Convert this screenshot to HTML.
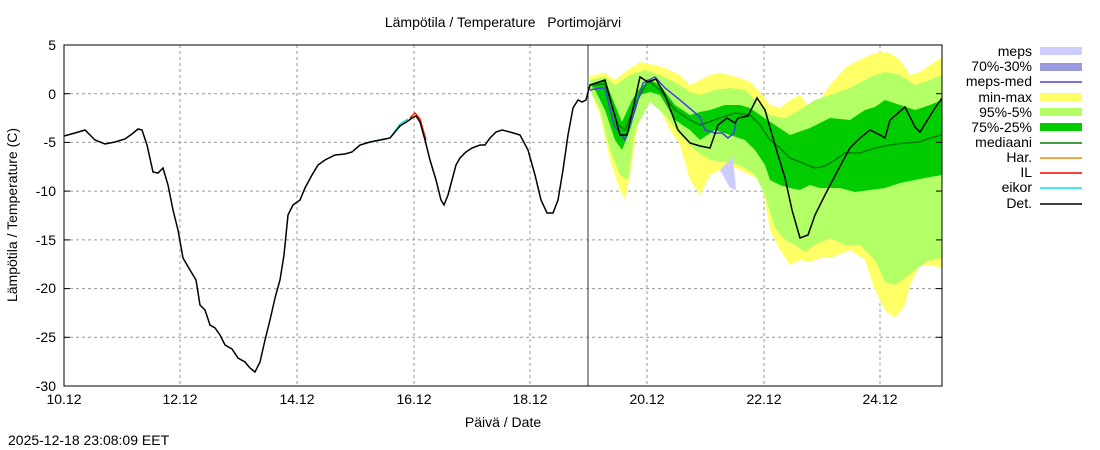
<!DOCTYPE html><html><head><meta charset="utf-8"><style>body{margin:0;background:#fff}svg{display:block;font-family:"Liberation Sans",sans-serif}</style></head><body>
<svg width="1100" height="450" xmlns="http://www.w3.org/2000/svg">
<g stroke="#999" stroke-dasharray="3,3" stroke-width="1">
<line x1="64" y1="93.7" x2="942" y2="93.7"/><line x1="64" y1="142.4" x2="942" y2="142.4"/><line x1="64" y1="191.1" x2="942" y2="191.1"/><line x1="64" y1="239.9" x2="942" y2="239.9"/><line x1="64" y1="288.6" x2="942" y2="288.6"/><line x1="64" y1="337.3" x2="942" y2="337.3"/>
<line x1="180" y1="45" x2="180" y2="386"/><line x1="297" y1="45" x2="297" y2="386"/><line x1="414" y1="45" x2="414" y2="386"/><line x1="530" y1="45" x2="530" y2="386"/><line x1="647" y1="45" x2="647" y2="386"/><line x1="764" y1="45" x2="764" y2="386"/><line x1="880" y1="45" x2="880" y2="386"/>
</g>
<polygon fill="#ffff66" points="590,76 605,73 615,80 625,72 640,62 655,65 665,68 680,75 690,85 700,80 710,75 720,73 730,75 740,78 750,82 760,92 770,105 780,108 790,100 800,95 810,108 820,100 830,85 845,68 855,62 870,55 880,52 890,53 900,60 910,75 920,72 930,65 942,57 942,268 930,265 920,265 910,285 905,305 895,318 885,310 875,290 865,260 850,250 830,258 820,258 810,262 800,260 790,265 780,250 770,230 765,200 760,180 750,175 740,170 730,165 720,170 710,175 700,195 690,180 680,145 670,130 660,110 650,100 640,110 630,175 625,200 620,190 610,160 600,115 590,90"/>
<polygon fill="#b3ff66" points="590,80 605,77 615,85 630,75 645,70 660,75 675,82 690,92 700,95 715,90 730,88 745,90 755,100 770,115 785,118 800,110 815,100 830,95 850,88 870,77 885,72 900,75 915,85 930,80 942,75 942,258 930,260 915,270 905,278 895,285 885,282 875,260 860,245 845,245 830,238 815,245 805,252 795,245 785,240 775,228 765,195 755,175 740,165 725,162 710,160 695,150 680,135 665,115 650,102 635,130 628,180 620,175 610,150 600,110 590,90"/>
<polygon fill="#00cc00" points="590,84 605,80 615,105 622,122 632,100 640,88 650,80 660,85 675,105 690,115 700,112 710,110 725,105 740,105 750,108 760,115 775,125 790,135 810,128 830,118 850,120 865,110 875,107 885,100 900,105 915,110 930,105 942,100 942,175 930,177 915,180 900,183 885,188 870,190 855,192 840,188 820,188 810,185 800,190 790,188 780,185 770,180 765,165 755,150 745,140 730,135 715,130 700,140 690,130 675,120 660,95 650,92 640,95 630,130 622,150 615,140 605,110 595,90"/>
<polygon fill="#ccccff" points="720,170 733,157 736,190 730,188"/>
<polyline fill="none" stroke="#008000" stroke-width="1.5" points="590,85 605,84 618,125 625,130 635,105 648,80 660,90 675,110 690,120 700,125 720,118 735,113 750,115 760,125 770,140 780,148 790,158 800,162 815,168 825,166 835,160 845,153 860,153 875,148 890,145 905,143 920,142 930,138 942,135"/>
<polyline fill="none" stroke="#4444dd" stroke-width="1.5" points="590,90 600,88 605,88 614,125 625,140 635,110 643,83 655,77 665,88 680,100 700,117 705,130 715,133 722,133 728,138 734,133 736,122"/>
<line x1="588" y1="45" x2="588" y2="386" stroke="#333" stroke-width="1"/>
<polyline fill="none" stroke="#00e5e5" stroke-width="1.5" points="360,145 370,142 380,140 390,138 400,124 408,119"/>
<polyline fill="none" stroke="#ff2200" stroke-width="1.5" points="410,118 415,113 420,119 426,140"/>
<polyline fill="none" stroke="#000" stroke-width="1.5" points="64,136 75,133 85,130 95,140 105,144 115,142 125,139 132,134 138,129 142,130 147,145 153,172 158,173 163,168 168,185 173,210 178,230 183,258 190,270 196,280 200,305 205,310 210,325 215,328 220,335 225,345 232,349 238,358 245,362 250,368 255,372 260,362 265,340 270,320 275,298 280,280 284,255 288,215 293,205 300,200 305,188 312,175 318,165 325,160 335,155 345,154 352,152 360,145 370,142 380,140 390,138 400,126 408,121 412,118 416,116 420,122 425,140 430,160 436,180 441,200 444,205 448,195 452,180 456,165 460,158 466,152 472,148 480,145 485,145 490,138 496,132 502,130 510,132 520,135 528,150 535,175 541,200 547,213 553,213 558,200 563,170 568,135 573,108 578,100 582,102 586,100 590,85 605,80 620,135 627,135 640,77 648,82 656,79 665,95 678,130 690,143 700,146 710,148 718,125 727,118 735,123 738,118 748,116 757,98 765,110 775,145 785,178 792,210 800,238 808,235 815,215 825,195 838,170 850,148 860,138 870,130 880,135 885,138 890,120 905,107 915,127 920,132 935,108 942,98"/>
<rect x="64" y="45" width="878" height="341" fill="none" stroke="#000" stroke-width="1"/>
<g stroke="#000"><line x1="64" y1="93.7" x2="70" y2="93.7"/><line x1="64" y1="142.4" x2="70" y2="142.4"/><line x1="64" y1="191.1" x2="70" y2="191.1"/><line x1="64" y1="239.9" x2="70" y2="239.9"/><line x1="64" y1="288.6" x2="70" y2="288.6"/><line x1="64" y1="337.3" x2="70" y2="337.3"/>
<line x1="936" y1="93.7" x2="942" y2="93.7"/><line x1="936" y1="142.4" x2="942" y2="142.4"/><line x1="936" y1="191.1" x2="942" y2="191.1"/><line x1="936" y1="239.9" x2="942" y2="239.9"/><line x1="936" y1="288.6" x2="942" y2="288.6"/><line x1="936" y1="337.3" x2="942" y2="337.3"/></g>
<g font-size="14" text-anchor="end"><text x="56" y="50">5</text><text x="56" y="99">0</text><text x="56" y="147">-5</text><text x="56" y="196">-10</text><text x="56" y="245">-15</text><text x="56" y="293">-20</text><text x="56" y="342">-25</text><text x="56" y="391">-30</text></g>
<g font-size="14" text-anchor="middle"><text x="64" y="404">10.12</text><text x="180" y="404">12.12</text><text x="297" y="404">14.12</text><text x="414" y="404">16.12</text><text x="530" y="404">18.12</text><text x="647" y="404">20.12</text><text x="764" y="404">22.12</text><text x="880" y="404">24.12</text>
<text x="503" y="427">Päivä / Date</text><text x="503" y="27">Lämpötila / Temperature&#160;&#160;&#160;Portimojärvi</text></g>
<text x="0" y="0" font-size="14" text-anchor="middle" transform="translate(17,215) rotate(-90)">Lämpötila / Temperature (C)</text>
<text x="8" y="445" font-size="14">2025-12-18 23:08:09 EET</text>
<g font-size="14" text-anchor="end"><text x="1032" y="56">meps</text><text x="1032" y="71">70%-30%</text><text x="1032" y="86">meps-med</text><text x="1032" y="102">min-max</text><text x="1032" y="117">95%-5%</text><text x="1032" y="132">75%-25%</text><text x="1032" y="147">mediaani</text><text x="1032" y="162">Har.</text><text x="1032" y="177">IL</text><text x="1032" y="192">eikor</text><text x="1032" y="208">Det.</text></g>
<rect x="1040" y="47" width="42" height="8" fill="#ccccff"/><rect x="1040" y="63" width="42" height="8" fill="#9999dd"/><line x1="1040" y1="82" x2="1082" y2="82" stroke="#4444dd" stroke-width="1.5"/>
<rect x="1040" y="93" width="42" height="8" fill="#ffff66"/><rect x="1040" y="108" width="42" height="8" fill="#b3ff66"/><rect x="1040" y="123" width="42" height="8" fill="#00cc00"/>
<line x1="1040" y1="143" x2="1082" y2="143" stroke="#008000" stroke-width="1.5"/><line x1="1040" y1="158" x2="1082" y2="158" stroke="#ff8800" stroke-width="1.5"/><line x1="1040" y1="173" x2="1082" y2="173" stroke="#ff0000" stroke-width="1.5"/><line x1="1040" y1="188" x2="1082" y2="188" stroke="#00e5e5" stroke-width="1.5"/><line x1="1040" y1="204" x2="1082" y2="204" stroke="#000" stroke-width="1.5"/>
</svg></body></html>
